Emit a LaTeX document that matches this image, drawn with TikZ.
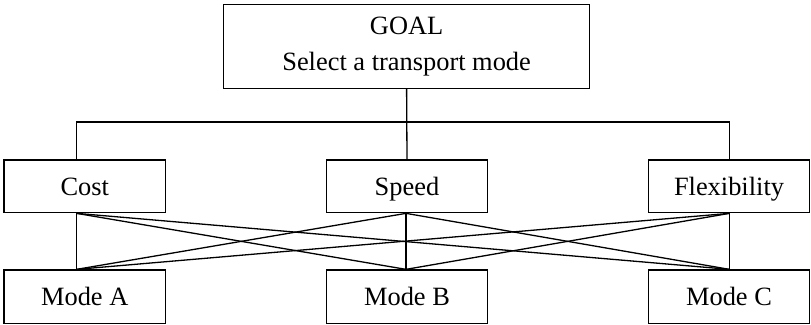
\documentclass[tikz,border=0pt]{standalone}
\usepackage{fontspec}
\setmainfont{Liberation Serif}
\begin{document}
\begin{tikzpicture}[x=1bp,y=-1bp,
  box/.style={draw,line width=1.3bp,inner sep=0pt,align=center,
    font=\fontsize{26.4bp}{36bp}\selectfont},
  single/.style={box,text height=17.6bp,text depth=0pt},
  crit/.style={single,minimum width=161.6bp,minimum height=52.7bp},
  alt/.style={single,minimum width=161.6bp,minimum height=53.3bp},
  link/.style={line width=1.3bp}]
\useasboundingbox (0,0) rectangle (811,324);

% goal
\node[box,minimum width=366.2bp,minimum height=83.6bp] (goal) at (406.6,46.5)
  {GOAL\\Select a transport mode};

% criteria
\node[crit] (cost)  at (84.75,186.35) {Cost};
\node[crit] (speed) at (407,186.35)   {Speed};
\node[crit] (flex)  at (729,186.35)   {Flexibility};

% alternatives
\node[alt] (modea) at (84.75,296.65) {Mode A};
\node[alt] (modeb) at (407,296.65)   {Mode B};
\node[alt] (modec) at (729,296.65)   {Mode C};

% goal to criteria
\coordinate (bus) at (406.8,122);
\draw[link] (goal.south) -- (speed.north);
\draw[link] ([xshift=-8.15bp]cost.north) |- (bus) -| ([xshift=0.4bp]flex.north);

% every criterion to every alternative
\foreach \s/\sx in {cost/-8.15,speed/-1,flex/0.4}
  \foreach \t/\tx in {modea/-8.15,modeb/-1,modec/0.4}
    \draw[link] ([xshift=\sx bp]\s.south) -- ([xshift=\tx bp]\t.north);
\end{tikzpicture}
\end{document}
